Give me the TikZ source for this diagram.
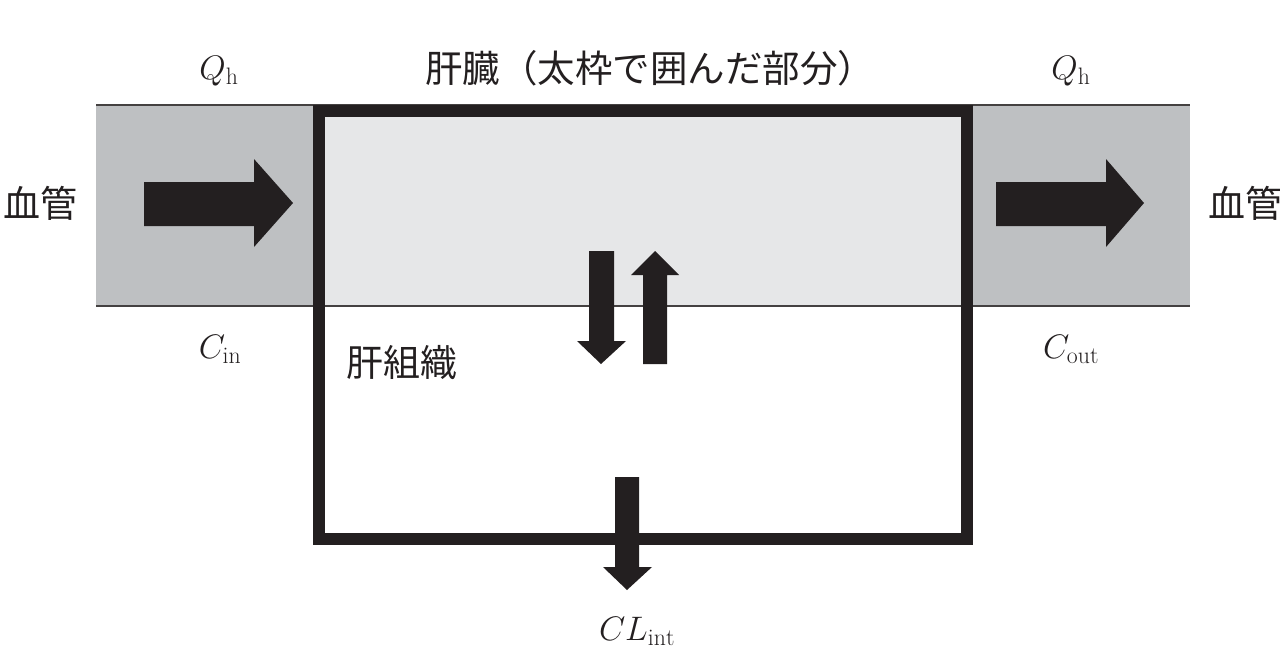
\RequirePackage{fix-cm}
\documentclass[tikz,border=0pt]{standalone}
\usepackage{fontspec}
\newfontfamily\jpfont{Noto Sans CJK JP}
\definecolor{vessel}{HTML}{BEC0C2}
\definecolor{liver}{HTML}{E6E7E8}
\definecolor{ink}{HTML}{231F20}
\begin{document}
\begin{tikzpicture}[x=1pt,y=-1pt,
  jp/.style={font=\jpfont\fontsize{37}{40}\selectfont, text=ink, inner sep=0pt},
  jphead/.style={font=\jpfont\fontsize{37.5}{42}\selectfont, text=ink, inner sep=0pt},
  sym/.style={font=\fontsize{34}{40}\selectfont, text=ink, inner sep=0pt, anchor=base},
  blockarrow/.style={fill=ink, draw=none},
  thinline/.style={draw=ink!85, line width=1.8pt},
  frame/.style={draw=ink, line width=12pt, line join=miter}]
\useasboundingbox (0,0) rectangle (1280,670);
% vessel band and liver region
\fill[vessel] (96,105) rectangle (1190,306);
\fill[liver] (319,111) rectangle (967,306);
\coordinate (vL1) at (96,105); \coordinate (vR1) at (1190,105);
\coordinate (vL2) at (96,306); \coordinate (vR2) at (1190,306);
\draw[thinline] (vL1) -- (vR1);
\draw[thinline] (vL2) -- (vR2);
% thick frame (liver)
\draw[frame] (319,111) rectangle (967,539);
% horizontal block arrows
\fill[blockarrow] (144,182) -- (254,182) -- (254,159) -- (293,203) -- (254,247) -- (254,226) -- (144,226) -- cycle;
\fill[blockarrow] (996,182) -- (1106,182) -- (1106,159) -- (1144,203) -- (1106,247) -- (1106,226) -- (996,226) -- cycle;
% exchange arrows
\fill[blockarrow] (589,251) -- (614,251) -- (614,341) -- (626,341) -- (601,364) -- (577,341) -- (589,341) -- cycle;
\fill[blockarrow] (643,364) -- (667,364) -- (667,275) -- (679,275) -- (655,251) -- (631,275) -- (643,275) -- cycle;
% elimination arrow
\fill[blockarrow] (615,477) -- (639,477) -- (639,567) -- (652,567) -- (627,590) -- (603,567) -- (615,567) -- cycle;
% labels
\node[jphead] (title) at (650,68) {肝臓（太枠で囲んだ部分）};
\node[jp] (vin) at (40,203) {血管};
\node[jp] (vout) at (1245,203) {血管};
\node[jp] (tissue) at (402,363) {肝組織};
\node[sym] (qin) at (219,79) {$Q_\mathrm{h}$};
\node[sym] (qout) at (1071,79) {$Q_\mathrm{h}$};
\node[sym] (cin) at (220,358) {$C_\mathrm{in}$};
\node[sym] (cout) at (1071,358) {$C_\mathrm{out}$};
\node[sym] (cl) at (637,640) {$CL_\mathrm{int}$};
\end{tikzpicture}
\end{document}
